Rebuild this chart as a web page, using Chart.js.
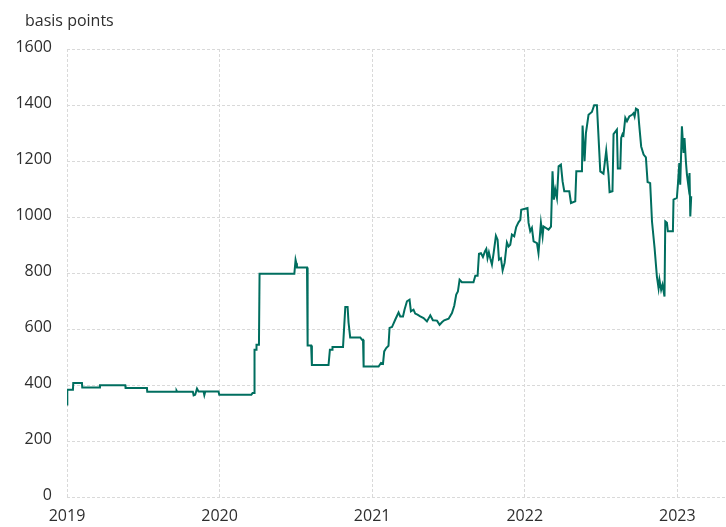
<!DOCTYPE html>
<html>
<head>
<meta charset="utf-8">
<script src="https://cdn.jsdelivr.net/npm/chart.js@4.4.1/dist/chart.umd.min.js"></script>
<style>
html,body{margin:0;padding:0;background:#ffffff;}
canvas{display:block;}
</style>
</head>
<body>
<canvas id="chart" width="726" height="527"></canvas>
<script>
// ---- data ----
const unitLabel = 'basis points';
const yTickValues = [0, 200, 400, 600, 800, 1000, 1200, 1400, 1600];
const xTickYears = [2019, 2020, 2021, 2022, 2023];

// observation dates as decimal years
const dates = [
  2019.000, 2019.002, 2019.039, 2019.041, 2019.098, 2019.100, 2019.214, 2019.216,
  2019.382, 2019.384, 2019.524, 2019.526, 2019.716, 2019.718, 2019.722, 2019.825,
  2019.830, 2019.840, 2019.852, 2019.862, 2019.895, 2019.900, 2019.906, 2019.993,
  2019.998, 2020.208, 2020.216, 2020.226, 2020.229, 2020.240, 2020.242, 2020.258,
  2020.262, 2020.490, 2020.498, 2020.503, 2020.507, 2020.573, 2020.577, 2020.600,
  2020.605, 2020.714, 2020.723, 2020.738, 2020.740, 2020.809, 2020.824, 2020.839,
  2020.845, 2020.856, 2020.922, 2020.933, 2020.940, 2020.944,
  2021.042, 2021.058, 2021.071, 2021.079, 2021.092, 2021.107, 2021.114, 2021.130,
  2021.151, 2021.173, 2021.184, 2021.202, 2021.212, 2021.228, 2021.245, 2021.254,
  2021.271, 2021.282, 2021.297, 2021.315, 2021.337, 2021.359, 2021.381, 2021.398,
  2021.425, 2021.442, 2021.457, 2021.472, 2021.501, 2021.523, 2021.538, 2021.551,
  2021.562, 2021.573, 2021.588, 2021.664, 2021.676, 2021.691, 2021.700, 2021.713,
  2021.726, 2021.739, 2021.748, 2021.756, 2021.765, 2021.774, 2021.785, 2021.796,
  2021.811, 2021.822, 2021.831, 2021.844, 2021.855, 2021.868, 2021.883, 2021.894,
  2021.905, 2021.916, 2021.931, 2021.944, 2021.959, 2021.971, 2021.977,
  2022.018, 2022.025, 2022.036, 2022.047, 2022.058, 2022.080, 2022.090, 2022.106,
  2022.117, 2022.123, 2022.156, 2022.172, 2022.182, 2022.191, 2022.200, 2022.211,
  2022.222, 2022.237, 2022.248, 2022.259, 2022.292, 2022.303, 2022.331, 2022.338,
  2022.375, 2022.379, 2022.392, 2022.401, 2022.418, 2022.440, 2022.455, 2022.473,
  2022.495, 2022.516, 2022.534, 2022.549, 2022.556, 2022.575, 2022.582, 2022.604,
  2022.610, 2022.626, 2022.632, 2022.641, 2022.647, 2022.659, 2022.670, 2022.685,
  2022.703, 2022.713, 2022.720, 2022.729, 2022.742, 2022.750, 2022.763, 2022.779,
  2022.794, 2022.805, 2022.822, 2022.834, 2022.851, 2022.866, 2022.877, 2022.883,
  2022.894, 2022.903, 2022.916, 2022.921, 2022.932, 2022.938, 2022.971, 2022.975,
  2022.997, 2023.004, 2023.013, 2023.019, 2023.030, 2023.041, 2023.047, 2023.056,
  2023.063, 2023.073, 2023.080, 2023.085, 2023.091
];

// spread in basis points
const spreadBp = [
  330, 383, 383, 407, 407, 391, 391, 399,
  399, 389, 389, 376, 376, 380, 376, 376,
  363, 365, 387, 377, 377, 364, 377, 377,
  365, 365, 371, 371, 526, 526, 544, 544,
  797, 797, 847, 835, 820, 820, 541, 541,
  471, 471, 526, 526, 536, 536, 679, 679,
  624, 570, 570, 562, 562, 466,
  466, 479, 476, 520, 532, 540, 604, 607,
  633, 659, 645, 645, 669, 699, 705, 663,
  669, 655, 651, 645, 639, 627, 649, 631,
  630, 615, 624, 631, 637, 657, 683, 723,
  734, 776, 767, 767, 790, 790, 869, 871,
  857, 877, 886, 853, 874, 853, 830, 871,
  933, 919, 848, 853, 809, 836, 909, 895,
  901, 937, 931, 964, 981, 990, 1026,
  1032, 979, 949, 961, 913, 907, 871, 979,
  931, 966, 955, 966, 1163, 1062, 1098, 1068,
  1181, 1187, 1127, 1092, 1092, 1050, 1056, 1163,
  1163, 1327, 1199, 1300, 1365, 1375, 1399, 1399,
  1163, 1155, 1237, 1151, 1089, 1092, 1296, 1312,
  1173, 1173, 1282, 1296, 1292, 1354, 1342, 1359,
  1365, 1371, 1359, 1387, 1383, 1330, 1252, 1223,
  1213, 1125, 1121, 984, 889, 788, 746, 776,
  740, 758, 716, 984, 979, 949, 949, 1062,
  1068, 1118, 1193, 1115, 1324, 1229, 1282, 1199,
  1151, 1109, 1157, 1002, 1074
];

// ---- drawing ----
const FONT = "'Open Sans', 'Liberation Sans', sans-serif";
const TEXT_COLOR = '#2e2e2e';
const GRID_COLOR = '#d9d9d9';
const LINE_COLOR = '#006e5f';

const points = dates.map((d, i) => ({ x: d, y: spreadBp[i] }));

const unitLabelPlugin = {
  id: 'unitLabel',
  afterDraw(chart) {
    const c = chart.ctx;
    c.save();
    c.font = '16px ' + FONT;
    c.fillStyle = TEXT_COLOR;
    c.textAlign = 'left';
    c.textBaseline = 'alphabetic';
    c.fillText(unitLabel, 25, 26);
    c.restore();
  }
};

function draw() {
  new Chart(document.getElementById('chart'), {
    type: 'line',
    data: {
      datasets: [{
        data: points,
        borderColor: LINE_COLOR,
        borderWidth: 2,
        pointRadius: 0,
        tension: 0,
        fill: false
      }]
    },
    options: {
      responsive: false,
      animation: false,
      devicePixelRatio: 1,
      layout: { padding: { top: 49, left: 0, right: 0, bottom: 0 } },
      plugins: { legend: { display: false }, tooltip: { enabled: false } },
      scales: {
        x: {
          type: 'linear',
          min: xTickYears[0],
          max: 2023.319,
          afterBuildTicks: s => { s.ticks = xTickYears.map(v => ({ value: v })); },
          afterFit: s => { s.height = 30; },
          grid: { color: GRID_COLOR, lineWidth: 1, drawTicks: false },
          border: { display: false, dash: [3, 2] },
          ticks: {
            padding: 10, color: TEXT_COLOR, maxRotation: 0, autoSkip: false,
            font: { family: FONT, size: 16 },
            callback: v => String(v)
          }
        },
        y: {
          min: yTickValues[0],
          max: yTickValues[yTickValues.length - 1],
          afterBuildTicks: s => { s.ticks = yTickValues.map(v => ({ value: v })); },
          afterFit: s => { s.width = 67; },
          grid: { color: GRID_COLOR, lineWidth: 1, drawTicks: false },
          border: { display: false, dash: [3, 2] },
          ticks: {
            padding: 15, color: TEXT_COLOR, labelOffset: -2,
            font: { family: FONT, size: 16 },
            callback: v => String(v)
          }
        }
      }
    },
    plugins: [unitLabelPlugin]
  });
}

if (document.fonts && document.fonts.load) {
  document.fonts.load("16px 'Open Sans'").then(draw, draw);
} else {
  draw();
}
</script>
</body>
</html>
